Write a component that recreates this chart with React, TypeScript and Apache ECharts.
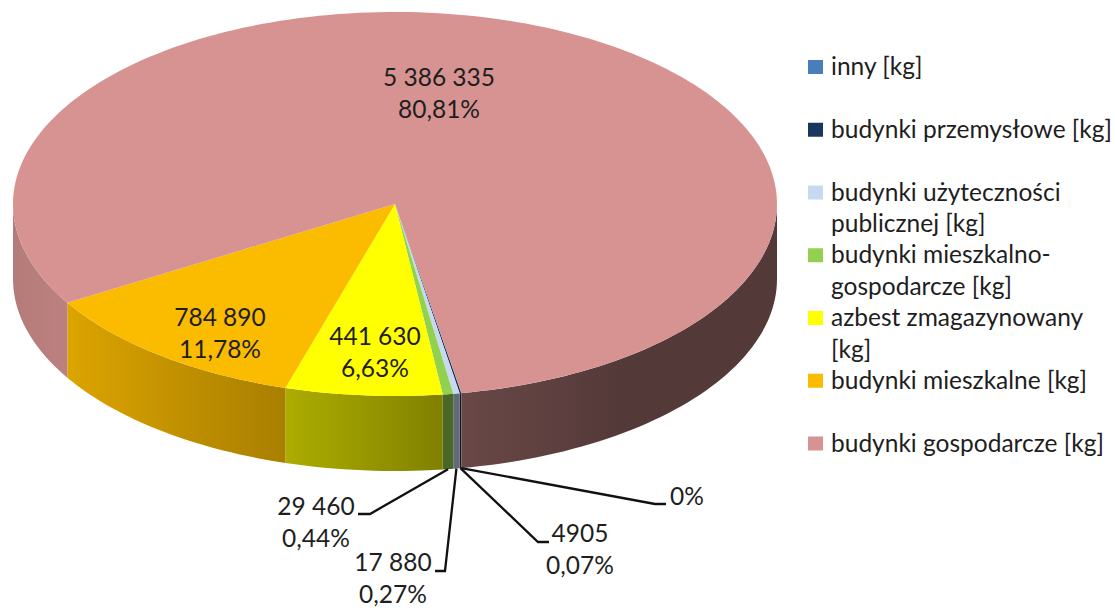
import React, { useEffect, useRef } from "react";
import * as echarts from "echarts";

const categories = [
  "inny [kg]",
  "budynki przemysłowe [kg]",
  "budynki użyteczności\npublicznej [kg]",
  "budynki mieszkalno-\ngospodarcze [kg]",
  "azbest zmagazynowany\n[kg]",
  "budynki mieszkalne [kg]",
  "budynki gospodarcze [kg]",
];
const values = [0, 4905, 17880, 29460, 441630, 784890, 5386335];
const valueLabels = ["", "4905", "17 880", "29 460", "441 630", "784 890", "5 386 335"];
const percentLabels = ["0%", "0,07%", "0,27%", "0,44%", "6,63%", "11,78%", "80,81%"];
const colors = ["#4A7EBB", "#17375E", "#C6D9F1", "#92D050", "#FFFF00", "#FBBC00", "#D79391"];

// layout of the pseudo-3D pie
const CX = 395;
const CY = 204;
const RX = 382;
const RY = 192;
const DEPTH = 75;
const START_ANGLE = 170;
const FONT = "24.5px Lato, Carlito, sans-serif";
const TEXT = "#1E1E1E";
const LINE_H = 31.5;
const TEXT_DY = -1.5;

// [label centre x, first-line centre y, elbow x, elbow y, leader end x] per slice
const labelLayout: (number[] | null)[] = [
  [687, 497, 655, 504, 666],
  [580, 534, 538, 542, 549],
  [393, 563, 445, 571, 435],
  [316, 507, 370, 514, 358],
  [375, 337],
  [220, 318],
  [439, 78],
];

// darkening of the pie's side as a function of x
const shadeStops = [
  [13, 0.84],
  [68, 0.875],
  [285, 0.67],
  [286, 0.68],
  [445, 0.5],
  [460, 0.49],
  [620, 0.39],
  [777, 0.39],
];

function shadeAt(x: number) {
  for (let i = 1; i < shadeStops.length; i++) {
    const [x0, s0] = shadeStops[i - 1];
    const [x1, s1] = shadeStops[i];
    if (x <= x1) return s0 + ((s1 - s0) * (x - x0)) / (x1 - x0);
  }
  return shadeStops[shadeStops.length - 1][1];
}

function shadeColor(hex: string, f: number) {
  const n = parseInt(hex.slice(1), 16);
  const r = Math.round(((n >> 16) & 255) * f);
  const g = Math.round(((n >> 8) & 255) * f);
  const b = Math.round((n & 255) * f);
  return `rgb(${r},${g},${b})`;
}

const rim = (deg: number, dy = 0): number[] => {
  const a = (deg * Math.PI) / 180;
  return [CX + RX * Math.sin(a), CY - RY * Math.cos(a) + dy];
};

function arcPoints(a0: number, a1: number, dy = 0) {
  const n = Math.max(2, Math.ceil(Math.abs(a1 - a0) / 1.5));
  const pts: number[][] = [];
  for (let i = 0; i <= n; i++) pts.push(rim(a0 + ((a1 - a0) * i) / n, dy));
  return pts;
}

const total = values.reduce((s, v) => s + v, 0);

function renderSlice(params: any, api: any) {
  const i = params.dataIndex;
  const before = values.slice(0, i).reduce((s, v) => s + v, 0);
  const a0 = START_ANGLE + (before / total) * 360;
  const a1 = a0 + (api.value(0) / total) * 360;
  const children: any[] = [];

  // visible parts of the side wall: the front half of the ellipse
  for (const k of [0, 1]) {
    const lo = Math.max(a0, 90 + 360 * k);
    const hi = Math.min(a1, 270 + 360 * k);
    if (hi <= lo) continue;
    const pts = [...arcPoints(lo, hi), ...arcPoints(hi, lo, DEPTH)];
    const xs = pts.map((p) => p[0]);
    const xMin = Math.min(...xs);
    const xMax = Math.max(...xs);
    const stops = [0, 0.25, 0.5, 0.75, 1].map((t) => ({
      offset: t,
      color: shadeColor(colors[i], shadeAt(xMin + (xMax - xMin) * t)),
    }));
    children.push({
      type: "polygon",
      shape: { points: pts },
      style: { fill: new echarts.graphic.LinearGradient(0, 0, 1, 0, stops) },
    });
  }

  // top face
  if (a1 > a0) {
    children.push({
      type: "polygon",
      shape: { points: [[CX, CY], ...arcPoints(a0, a1)] },
      style: { fill: colors[i] },
    });
  }

  return { type: "group", children };
}

function renderLabel(params: any) {
  const i = params.dataIndex;
  const layout = labelLayout[i] as number[];
  const before = values.slice(0, i).reduce((s, v) => s + v, 0);
  const mid = START_ANGLE + ((before + values[i] / 2) / total) * 360;
  const children: any[] = [];
  if (layout.length > 2) {
    children.push({
      type: "polyline",
      shape: { points: [rim(mid, DEPTH), [layout[2], layout[3]], [layout[4], layout[3]]] },
      style: { stroke: "#111111", lineWidth: 2.3, fill: "none" },
    });
  }
  const lines = valueLabels[i] ? [valueLabels[i], percentLabels[i]] : [percentLabels[i]];
  lines.forEach((t, j) => {
    children.push({
      type: "text",
      style: {
        text: t,
        x: layout[0],
        y: layout[1] + TEXT_DY + j * LINE_H,
        align: "center",
        verticalAlign: "middle",
        font: FONT,
        fill: TEXT,
      },
    });
  });
  return { type: "group", children };
}

function legendGraphics() {
  const X = 808;
  const TX = 831;
  const Y0 = 67;
  const STEP = 62.75;
  const out: any[] = [];
  categories.forEach((name, i) => {
    const y = Y0 + i * STEP;
    out.push({
      type: "rect",
      shape: { x: X, y: y - 7, width: 15, height: 14 },
      style: { fill: colors[i] },
    });
    name.split("\n").forEach((line, j) => {
      out.push({
        type: "text",
        style: {
          text: line,
          x: TX,
          y: y + TEXT_DY + j * LINE_H,
          align: "left",
          verticalAlign: "middle",
          font: FONT,
          fill: TEXT,
        },
      });
    });
  });
  return out;
}

export default function App() {
  const ref = useRef<HTMLDivElement>(null);
  useEffect(() => {
    document.body.style.margin = "0";
    const chart = echarts.init(ref.current!, undefined, { renderer: "svg" });
    chart.setOption({
      animation: false,
      backgroundColor: "#ffffff",
      graphic: legendGraphics(),
      series: [
        {
          type: "custom",
          coordinateSystem: "none",
          renderItem: renderSlice,
          data: values.map((v, i) => ({ name: categories[i], value: [v] })),
          silent: true,
          z: 2,
        },
        {
          type: "custom",
          coordinateSystem: "none",
          renderItem: renderLabel,
          data: values.map((v, i) => ({ name: categories[i], value: [v] })),
          silent: true,
          z: 3,
        },
      ],
    });
    return () => chart.dispose();
  }, []);
  return <div ref={ref} style={{ width: 1115, height: 608 }} />;
}
